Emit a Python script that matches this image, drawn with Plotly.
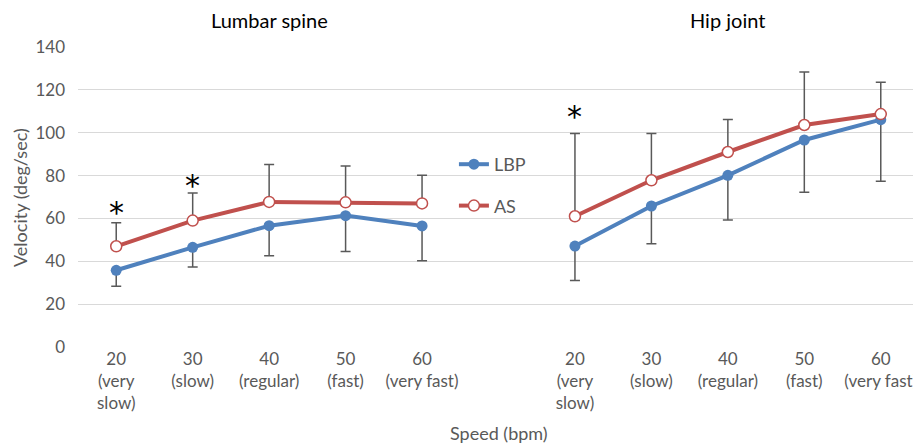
import plotly.graph_objects as go

# categories: 5 speeds for lumbar spine, a gap, 5 speeds for hip joint
speed_labels = ["20<br>(very<br>slow)", "30<br>(slow)", "40<br>(regular)", "50<br>(fast)", "60<br>(very fast)"]
x_pos = [0, 1, 2, 3, 4, None, 6, 7, 8, 9, 10]
tick_pos = [0, 1, 2, 3, 4, 6, 7, 8, 9, 10]
tick_text = speed_labels + speed_labels

# mean values (deg/sec)
lbp_mean = [35.8, 46.5, 56.6, 61.3, 56.5, None, 47.1, 65.8, 80.1, 96.6, 106.1]
as_mean = [47.0, 59.0, 67.7, 67.5, 67.0, None, 61.0, 77.8, 91.0, 103.6, 108.7]
# error bar ends (lower for LBP, upper for AS)
lbp_low = [28.3, 37.3, 42.6, 44.6, 40.3, None, 31.0, 48.2, 59.3, 72.2, 77.3]
as_high = [58.0, 71.9, 85.2, 84.5, 80.1, None, 99.6, 99.6, 106.2, 128.3, 123.5]

# significance markers
star_x = [0, 1, 6]
star_y = [63, 75.5, 107.5]

BLUE = "#4f81bd"
RED = "#c0504d"
GREY = "#595959"
FONT = "Lato"

lbp_minus = [None if m is None else m - l for m, l in zip(lbp_mean, lbp_low)]
as_plus = [None if m is None else h - m for m, h in zip(as_mean, as_high)]

fig = go.Figure()

fig.add_trace(
    go.Scatter(
        x=x_pos,
        y=lbp_mean,
        name="LBP",
        legendgroup="lbp",
        mode="lines+markers",
        line=dict(color=BLUE, width=4),
        marker=dict(size=11, color=BLUE),
        error_y=dict(
            type="data",
            symmetric=False,
            array=[0 for _ in lbp_minus],
            arrayminus=lbp_minus,
            color=GREY,
            thickness=1.5,
            width=5,
        ),
    )
)

fig.add_trace(
    go.Scatter(
        x=x_pos,
        y=as_mean,
        name="AS",
        legendgroup="as",
        mode="lines+markers",
        line=dict(color=RED, width=4),
        marker=dict(size=11, color="white", line=dict(color=RED, width=1.5)),
        error_y=dict(
            type="data",
            symmetric=False,
            array=as_plus,
            arrayminus=[0 for _ in as_plus],
            color=GREY,
            thickness=1.5,
            width=5,
        ),
    )
)

for sx, sy in zip(star_x, star_y):
    fig.add_annotation(
        x=sx, y=sy, text="*", showarrow=False,
        font=dict(size=30, color="black", family="DejaVu Sans"),
        yanchor="middle",
    )

# panel titles
fig.add_annotation(x=2, y=1.09, yref="paper", text="Lumbar spine", showarrow=False,
                   font=dict(size=20, color="black", family=FONT), yanchor="middle")
fig.add_annotation(x=8, y=1.09, yref="paper", text="Hip joint", showarrow=False,
                   font=dict(size=20, color="black", family=FONT), yanchor="middle")

# axis titles
fig.add_annotation(x=5, y=-0.285, yref="paper", text="Speed (bpm)", showarrow=False,
                   font=dict(size=18, color=GREY, family=FONT), yanchor="middle")
fig.add_annotation(x=-0.069, xref="paper", y=0.5, yref="paper", text="Velocity (deg/sec)",
                   showarrow=False, textangle=-90,
                   font=dict(size=18, color=GREY, family=FONT), xanchor="center")

# the page body adds an 8px margin, so the figure is sized to fit the window
fig.update_layout(
    width=913,
    height=436,
    margin=dict(l=70, r=2, t=39, b=97),
    paper_bgcolor="white",
    plot_bgcolor="white",
    font=dict(family=FONT, size=17, color=GREY),
    showlegend=True,
    legend=dict(
        x=0.447, y=0.54, xanchor="left", yanchor="middle",
        bgcolor="rgba(0,0,0,0)",
        font=dict(size=18, color=GREY),
        traceorder="grouped",
        tracegroupgap=15,
        itemwidth=30,
    ),
    xaxis=dict(
        range=[-0.5, 10.5],
        tickmode="array",
        tickvals=tick_pos,
        ticktext=tick_text,
        showgrid=False,
        zeroline=False,
        showline=False,
        ticks="",
        automargin=False,
        tickfont=dict(size=17, color=GREY),
    ),
    yaxis=dict(
        range=[0, 140],
        dtick=20,
        showgrid=True,
        gridcolor="#d9d9d9",
        gridwidth=1.3,
        zeroline=False,
        showline=False,
        ticks="",
        automargin=False,
        ticklabelstandoff=12,
        tickfont=dict(size=17, color=GREY),
    ),
)

fig.write_html("out.html")
